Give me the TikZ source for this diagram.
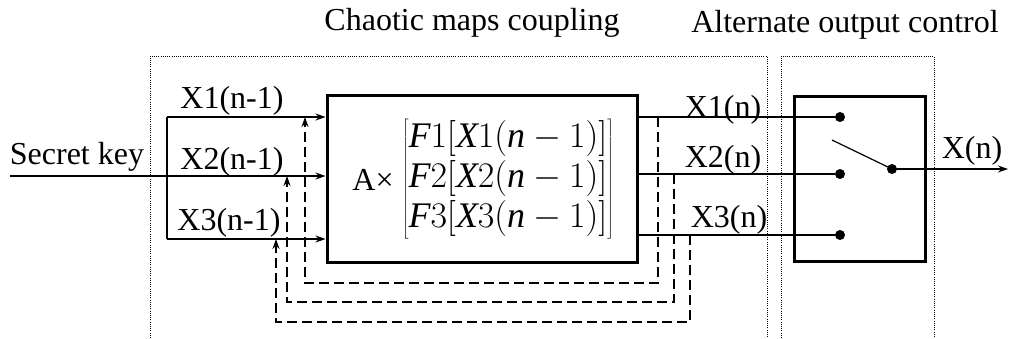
\documentclass[tikz,border=0pt]{standalone}
\usepackage{fix-cm}
\usepackage{fontspec}
\setmainfont{Liberation Serif}
\usetikzlibrary{arrows.meta}
\newcommand{\mv}[1]{\mathit{#1}}
\begin{document}
\begin{tikzpicture}[x=1pt,y=-1pt,
  lbl/.style={inner sep=0pt, font=\fontsize{32}{40}\selectfont},
  mathlbl/.style={inner sep=0pt, font=\fontsize{36}{40}\selectfont},
  wire/.style={line width=1.2pt},
  fb/.style={line width=1.2pt, dash pattern=on 10pt off 5pt},
  arr/.style={-{Stealth[length=10pt,width=7pt]}},
  frame/.style={line width=1pt, dash pattern=on 1pt off 1.2pt},
  blk/.style={draw, line width=3pt, inner sep=0pt},
  dot/.style={circle, fill, inner sep=0pt, minimum size=10pt}]
\useasboundingbox (0,0) rectangle (1010,338);
% dotted frames
\coordinate (fa1) at (150,338); \coordinate (fa2) at (150,56);
\coordinate (fa3) at (767,56);  \coordinate (fa4) at (767,338);
\coordinate (fb1) at (781,338); \coordinate (fb2) at (781,56);
\coordinate (fb3) at (934,56);  \coordinate (fb4) at (934,338);
\draw[frame] (fa1) -- (fa2) -- (fa3) -- (fa4);
\draw[frame] (fb1) -- (fb2) -- (fb3) -- (fb4);
% titles
\node[lbl] (t1) at (472,23) {Chaotic maps coupling};
\node[lbl] (t2) at (845,25) {Alternate output control};
% blocks
\node[blk, minimum width=310pt, minimum height=167pt] (cm) at (482,178.5) {};
\node[blk, minimum width=131pt, minimum height=165pt] (sw) at (859.5,178.5) {};
\node[lbl] (ax) at (373,180) {A×};
\node[mathlbl] (mx) at (508,179) {$\left[\begin{array}{@{}l@{}}\mv{F}1[\mv{X}1(\mv{n}-1)]\\\mv{F}2[\mv{X}2(\mv{n}-1)]\\\mv{F}3[\mv{X}3(\mv{n}-1)]\end{array}\right]$};
% inputs
\coordinate (skin) at (10,176);
\coordinate (j1) at (167,117);
\coordinate (j2) at (167,176);
\coordinate (j3) at (167,239);
\draw[wire,arr] (skin) -- (cm.west |- j2);
\draw[wire] (j1) -- (j3);
\draw[wire,arr] (j1) -- (cm.west |- j1);
\draw[wire,arr] (j3) -- (cm.west |- j3);
\node[lbl] (sk) at (77,157) {Secret key};
\node[lbl] (l1) at (232,101) {X1(n-1)};
\node[lbl] (l2) at (232,162) {X2(n-1)};
\node[lbl] (l3) at (229,223) {X3(n-1)};
% switch
\node[dot] (d1) at (840,117) {};
\node[dot] (d2) at (840,174) {};
\node[dot] (d3) at (840,235) {};
\node[dot] (dout) at (892,169) {};
\coordinate (swa) at (832,140);
\coordinate (xend) at (1008,169);
\draw[wire] (swa) -- (dout.center);
\draw[wire,arr] (dout.center) -- (xend);
\node[lbl] (ox) at (972,151) {X(n)};
% outputs
\draw[wire] (cm.east |- d1) -- (d1);
\draw[wire] (cm.east |- d2) -- (d2);
\draw[wire] (cm.east |- d3) -- (d3);
\node[lbl] (o1) at (723,110) {X1(n)};
\node[lbl] (o2) at (723,160) {X2(n)};
\node[lbl] (o3) at (729,220) {X3(n)};
% feedback
\coordinate (f1) at (658,117); \coordinate (b1) at (305,283); \coordinate (a1) at (305,117);
\coordinate (f2) at (674,174); \coordinate (b2) at (287,302); \coordinate (a2) at (287,176);
\coordinate (f3) at (690,235); \coordinate (b3) at (276,322); \coordinate (a3) at (276,239);
\draw[fb,arr] (f1) |- (b1) -- (a1);
\draw[fb,arr] (f2) |- (b2) -- (a2);
\draw[fb,arr] (f3) |- (b3) -- (a3);
\end{tikzpicture}
\end{document}
